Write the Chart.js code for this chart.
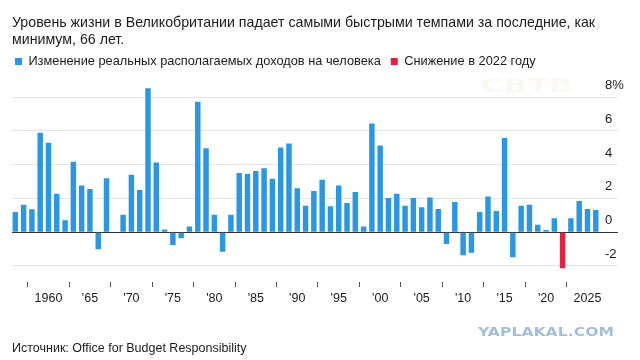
<!DOCTYPE html>
<html>
<head>
<meta charset="utf-8">
<script src="https://cdn.jsdelivr.net/npm/chart.js@4.4.1/dist/chart.umd.min.js"></script>
<style>
  html, body { margin: 0; padding: 0; background: #ffffff; }
  #wrap { width: 640px; height: 360px; position: relative; }
</style>
</head>
<body>
<div id="wrap"><canvas id="c" width="640" height="360"></canvas></div>
<script>
// ---- data ----
const years = [
  1956, 1957, 1958, 1959, 1960, 1961, 1962, 1963, 1964, 1965,
  1966, 1967, 1968, 1969, 1970, 1971, 1972, 1973, 1974, 1975,
  1976, 1977, 1978, 1979, 1980, 1981, 1982, 1983, 1984, 1985,
  1986, 1987, 1988, 1989, 1990, 1991, 1992, 1993, 1994, 1995,
  1996, 1997, 1998, 1999, 2000, 2001, 2002, 2003, 2004, 2005,
  2006, 2007, 2008, 2009, 2010, 2011, 2012, 2013, 2014, 2015,
  2016, 2017, 2018, 2019, 2020, 2021, 2022, 2023, 2024, 2025,
  2026
];
const incomeChange = [
  1.19, 1.63, 1.35, 5.89, 5.30, 2.28, 0.71, 4.17, 2.76, 2.56,
  -1.01, 3.19, 0.02, 1.03, 3.41, 2.50, 8.53, 4.13, 0.16, -0.77,
  -0.36, 0.34, 7.74, 4.98, 1.03, -1.17, 1.03, 3.51, 3.45, 3.63,
  3.79, 3.17, 5.02, 5.26, 2.60, 1.57, 2.44, 3.10, 1.53, 2.76,
  1.73, 2.38, 0.34, 6.45, 5.14, 2.02, 2.28, 1.57, 2.02, 1.47,
  2.06, 1.37, -0.71, 1.79, -1.37, -1.23, 1.19, 2.12, 1.25, 5.58,
  -1.49, 1.57, 1.63, 0.44, 0.12, 0.83, null, 0.83, 1.85, 1.37,
  1.31
];
const declineYears = [2022];
const declineValues = [-2.14];

const xTickYears = [1960, 1965, 1970, 1975, 1980, 1985, 1990, 1995, 2000, 2005, 2010, 2015, 2020, 2025];
const xTickLabels = ['1960', "'65", "'70", "'75", "'80", "'85", "'90", "'95", "'00", "'05", "'10", "'15", "'20", '2025'];
const yTickValues = [-2, 0, 2, 4, 6, 8];
const yTickLabels = ['-2', '0', '2', '4', '6', '8%'];

const titleLines = [
  'Уровень жизни в Великобритании падает самыми быстрыми темпами за последние, как',
  'минимум, 66 лет.'
];
const seriesNames = ['Изменение реальных располагаемых доходов на человека', 'Снижение в 2022 году'];
const sourceText = 'Источник: Office for Budget Responsibility';

// ---- styling ----
const FONT = '"Liberation Sans", Arial, Helvetica, sans-serif';
const BLUE = '#2a97e5';
const RED = '#e2223f';
const gridColor = ctx => (ctx.tick && ctx.tick.value === 0) ? '#333333' : '#e4e4e4';

const watermarkPlugin = {
  id: 'watermarks',
  beforeDatasetsDraw(chart) {
    const ctx = chart.ctx;
    ctx.save();
    ctx.font = 'bold 19px "DejaVu Sans", sans-serif';
    ctx.fillStyle = 'rgba(240, 190, 140, 0.12)';
    ctx.textBaseline = 'alphabetic';
    const w = ctx.measureText('СВТВ').width;
    ctx.translate(480, 92);
    ctx.scale(93 / w, 1);
    ctx.fillText('СВТВ', 0, 0);
    ctx.restore();
  },
  afterDraw(chart) {
    const ctx = chart.ctx;
    ctx.save();
    ctx.font = 'bold 12.5px "DejaVu Sans", sans-serif';
    ctx.fillStyle = '#a3bfd8';
    ctx.textBaseline = 'alphabetic';
    const w = ctx.measureText('YAPLAKAL.COM').width;
    ctx.translate(478, 336);
    ctx.scale(136 / w, 1);
    ctx.fillText('YAPLAKAL.COM', 0, 0);
    ctx.restore();
  }
};

new Chart(document.getElementById('c'), {
  type: 'bar',
  data: {
    datasets: [
      {
        label: seriesNames[0],
        data: years.map((y, i) => ({ x: y, y: incomeChange[i] })),
        backgroundColor: BLUE,
        borderWidth: 0,
        grouped: false,
        barPercentage: 0.66,
        categoryPercentage: 1.0,
        xAxisID: 'x',
        yAxisID: 'y'
      },
      {
        label: seriesNames[1],
        data: declineYears.map((y, i) => ({ x: y, y: declineValues[i] })),
        backgroundColor: RED,
        borderWidth: 0,
        grouped: false,
        barPercentage: 0.66,
        categoryPercentage: 1.0,
        xAxisID: 'x',
        yAxisID: 'y'
      }
    ]
  },
  options: {
    responsive: false,
    animation: false,
    devicePixelRatio: 1,
    layout: { padding: { left: 5, right: 0, top: 0, bottom: 0 } },
    plugins: {
      title: {
        display: true,
        text: titleLines,
        align: 'start',
        fullSize: false,
        color: '#1a1a1a',
        font: { family: FONT, size: 14.2, weight: 'normal', lineHeight: 1.2 },
        padding: { top: 15, bottom: -4.1 }
      },
      legend: {
        display: true,
        position: 'top',
        align: 'start',
        labels: {
          boxWidth: 7,
          boxHeight: 7,
          padding: 10,
          color: '#1a1a1a',
          font: { family: FONT, size: 12.8 }
        }
      },
      subtitle: {
        display: true,
        text: sourceText,
        position: 'bottom',
        align: 'start',
        fullSize: false,
        color: '#1a1a1a',
        font: { family: FONT, size: 12.5, weight: 'normal', lineHeight: 1.2 },
        padding: { top: 35.5, bottom: 3.5 }
      },
      tooltip: { enabled: false }
    },
    scales: {
      x: {
        type: 'linear',
        position: 'bottom',
        min: 1955.6,
        max: 2027.11,
        offset: false,
        border: { display: false },
        grid: {
          display: true,
          drawOnChartArea: false,
          drawTicks: true,
          tickLength: 5,
          tickColor: '#555555',
          tickWidth: 1
        },
        afterBuildTicks(scale) {
          scale.ticks = xTickYears.map(v => ({ value: v }));
        },
        afterFit(scale) { scale.height = 24; },
        ticks: {
          autoSkip: false,
          maxRotation: 0,
          padding: 4,
          color: '#1a1a1a',
          font: { family: FONT, size: 12.5 },
          callback: (v, i) => xTickLabels[i]
        }
      },
      y: {
        type: 'linear',
        position: 'right',
        min: -2.958,
        max: 9.155,
        border: { display: false },
        grid: {
          display: true,
          drawTicks: true,
          tickLength: 13,
          color: gridColor,
          tickColor: gridColor,
          lineWidth: 1
        },
        afterBuildTicks(scale) {
          scale.ticks = yTickValues.map(v => ({ value: v }));
        },
        afterFit(scale) { scale.width = 35; },
        ticks: {
          padding: -13,
          labelOffset: -11.5,
          color: '#1a1a1a',
          font: { family: FONT, size: 13 },
          callback: (v, i) => yTickLabels[i]
        }
      },
      yL: {
        type: 'linear',
        position: 'left',
        display: true,
        border: { display: false },
        grid: { display: false },
        ticks: { display: false },
        afterFit(scale) { scale.width = 7; }
      }
    }
  },
  plugins: [watermarkPlugin]
});
</script>
</body>
</html>
